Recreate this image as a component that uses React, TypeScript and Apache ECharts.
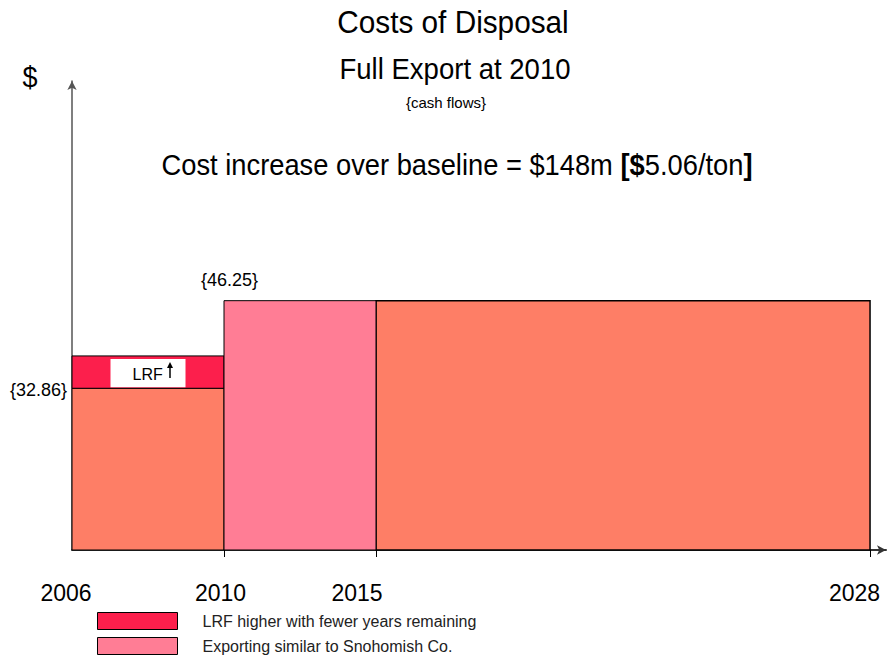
import React, { useEffect, useRef } from "react";
import * as echarts from "echarts";

// Timeline (drawn schematically, not to scale in the original)
const timelineYears = [2006, 2010, 2015, 2028];
const timelinePos = [0, 4, 8, 21];

// Orange blocks: baseline disposal cost
const orangeFrom = [2006, 2015];
const orangeTo = [2010, 2028];
const orangeLow = [0, 0];
const orangeHigh = [30, 46.25];

// Red block: LRF increase
const lrfFrom = [2006];
const lrfTo = [2010];
const lrfLow = [30];
const lrfHigh = [36];

// Pink block: exporting
const exportFrom = [2010];
const exportTo = [2015];
const exportLow = [0];
const exportHigh = [46.25];

const valueLabels = ["{32.86}", "{46.25}"];
const legendNames = [
  "LRF higher with fewer years remaining",
  "Exporting similar to Snohomish Co.",
];

const FONT = "'Liberation Sans', Arial, sans-serif";
const ORANGE = "#FE7E66";
const RED = "#FC1F4C";
const PINK = "#FF7D95";

const pos = (year: number) => timelinePos[timelineYears.indexOf(year)];

const build = (from: number[], to: number[], low: number[], high: number[]) =>
  from.map((f, i) => [pos(f), pos(to[i]), low[i], high[i]]);

const labelOffsets: Record<number, number> = { 2006: 12, 2010: 7, 2015: 38, 2028: 31 };

export default function App() {
  const ref = useRef<HTMLDivElement>(null);
  useEffect(() => {
    if (!ref.current) return;
    const chart = echarts.init(ref.current, undefined, { renderer: "svg" });

    const rectEl = (api: any, color: string, lw = 1) => {
      const p0 = api.coord([api.value(0), api.value(3)]);
      const p1 = api.coord([api.value(1), api.value(2)]);
      return {
        p0,
        p1,
        el: {
          type: "rect",
          shape: { x: p0[0], y: p0[1], width: p1[0] - p0[0], height: p1[1] - p0[1] },
          style: { fill: color, stroke: "#000", lineWidth: lw },
        },
      };
    };

    const rich: any = {};
    timelineYears.forEach((y) => {
      rich["y" + y] = {
        fontSize: 23,
        fontFamily: FONT,
        color: "#000",
        padding: [0, labelOffsets[y], 0, 0],
      };
    });

    const option: any = {
      animation: false,
      backgroundColor: "#fff",
      grid: { left: 72, right: 4, top: 81, bottom: 106, containLabel: false },
      xAxis: {
        type: "value",
        min: 0,
        max: 21.42,
        axisLine: {
          show: true,
          lineStyle: { color: "#333", width: 2 },
          symbol: ["none", "arrow"],
          symbolSize: [7, 9],
        },
        axisTick: {
          show: true,
          customValues: timelinePos.slice(1),
          length: 7,
          lineStyle: { color: "#000", width: 1 },
        },
        axisLabel: {
          customValues: timelinePos,
          margin: 31,
          formatter: (v: number) => {
            const y = timelineYears[timelinePos.indexOf(v)];
            return `{y${y}|${y}}`;
          },
          rich,
        },
        splitLine: { show: false },
      },
      yAxis: {
        type: "value",
        min: 0,
        max: 87,
        axisLine: {
          show: true,
          lineStyle: { color: "#555", width: 1.5 },
          symbol: ["none", "arrow"],
          symbolSize: [7, 9],
        },
        axisTick: { show: false },
        axisLabel: { show: false },
        splitLine: { show: false },
      },
      legend: {
        data: legendNames,
        orient: "vertical",
        left: 97,
        top: 612,
        padding: 0,
        itemWidth: 80,
        itemHeight: 17,
        itemGap: 7,
        icon: "rect",
        selectedMode: false,
        itemStyle: { borderColor: "#000", borderWidth: 1 },
        textStyle: {
          fontSize: 16,
          color: "#222",
          fontFamily: FONT,
          padding: [0, 0, 0, 20],
        },
      },
      graphic: [
        {
          type: "text",
          x: 30,
          y: 76,
          scaleX: 0.9,
          style: { text: "$", fontSize: 30, fontFamily: FONT, fill: "#000", align: "center", verticalAlign: "middle" },
        },
        {
          type: "text",
          x: 453,
          y: 22,
          scaleX: 0.96,
          style: { text: "Costs of Disposal", fontSize: 31, fontFamily: FONT, fill: "#000", align: "center", verticalAlign: "middle" },
        },
        {
          type: "text",
          x: 455,
          y: 69,
          scaleX: 0.95,
          style: { text: "Full Export at 2010", fontSize: 29, fontFamily: FONT, fill: "#000", align: "center", verticalAlign: "middle" },
        },
        {
          type: "text",
          x: 446,
          y: 102,
          style: { text: "{cash flows}", fontSize: 15, fontFamily: FONT, fill: "#000", align: "center", verticalAlign: "middle" },
        },
        {
          type: "text",
          x: 457,
          y: 165,
          scaleX: 0.91,
          style: {
            text: "{n|Cost increase over baseline = $148m }{b|[}{b|$}{n|5.06/ton}{b|]}",
            align: "center",
            verticalAlign: "middle",
            rich: {
              n: { fontSize: 30, fontFamily: FONT, fill: "#000" },
              b: { fontSize: 30, fontFamily: FONT, fontWeight: "bold", fill: "#000" },
            },
          },
        },
      ],
      series: [
        {
          type: "custom",
          name: "Baseline",
          itemStyle: { color: ORANGE },
          encode: { x: [0, 1], y: [2, 3] },
          data: build(orangeFrom, orangeTo, orangeLow, orangeHigh),
          renderItem: (params: any, api: any) => {
            const last = params.dataIndex === orangeFrom.length - 1;
            const r = rectEl(api, ORANGE, last ? 1.5 : 1);
            const children: any[] = [r.el];
            if (params.dataIndex === 0) {
              children.push({
                type: "text",
                x: r.p0[0] - 5,
                y: r.p0[1] + 2,
                style: { text: valueLabels[0], fontSize: 18, fontFamily: FONT, fill: "#000", align: "right", verticalAlign: "middle" },
              });
            }
            return { type: "group", children };
          },
        },
        {
          type: "custom",
          name: legendNames[0],
          itemStyle: { color: RED },
          encode: { x: [0, 1], y: [2, 3] },
          data: build(lrfFrom, lrfTo, lrfLow, lrfHigh),
          renderItem: (params: any, api: any) => {
            const r = rectEl(api, RED);
            const w = r.p1[0] - r.p0[0];
            const bw = 75;
            const bx = r.p0[0] + (w - bw) / 2;
            const by = r.p0[1] + 3;
            const bh = r.p1[1] - r.p0[1] - 4;
            const ay = by + bh / 2;
            return {
              type: "group",
              children: [
                r.el,
                { type: "rect", shape: { x: bx, y: by, width: bw, height: bh }, style: { fill: "#fff" } },
                {
                  type: "text",
                  x: bx + 22,
                  y: ay + 1,
                  style: { text: "LRF", fontSize: 16, fontFamily: FONT, fill: "#000", align: "left", verticalAlign: "middle" },
                },
                {
                  type: "line",
                  shape: { x1: bx + 59.5, y1: ay + 5, x2: bx + 59.5, y2: ay - 5 },
                  style: { stroke: "#000", lineWidth: 1.5 },
                },
                {
                  type: "polygon",
                  shape: { points: [[bx + 56.5, ay - 5], [bx + 62.5, ay - 5], [bx + 59.5, ay - 11]] },
                  style: { fill: "#000" },
                },
              ],
            };
          },
        },
        {
          type: "custom",
          name: legendNames[1],
          itemStyle: { color: PINK },
          encode: { x: [0, 1], y: [2, 3] },
          data: build(exportFrom, exportTo, exportLow, exportHigh),
          renderItem: (params: any, api: any) => {
            const r = rectEl(api, PINK);
            return {
              type: "group",
              children: [
                r.el,
                {
                  type: "text",
                  x: r.p0[0] - 23,
                  y: r.p0[1] - 21,
                  style: { text: valueLabels[1], fontSize: 18, fontFamily: FONT, fill: "#000", align: "left", verticalAlign: "middle" },
                },
              ],
            };
          },
        },
      ],
    };

    chart.setOption(option);
    return () => chart.dispose();
  }, []);

  return (
    <div
      ref={ref}
      style={{ position: "fixed", left: 0, top: 0, width: 890, height: 656, background: "#fff" }}
    />
  );
}
